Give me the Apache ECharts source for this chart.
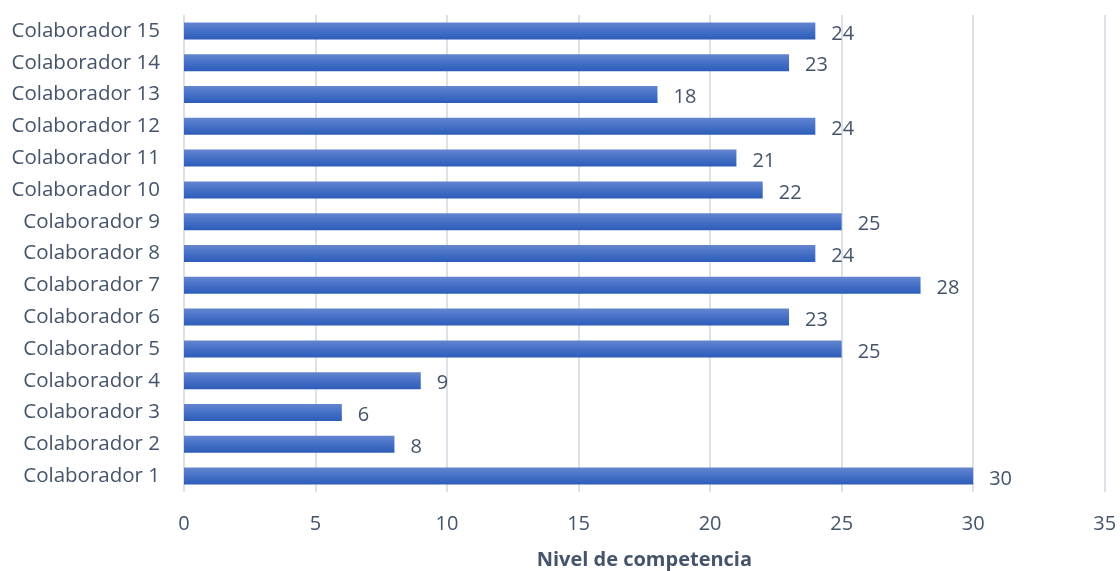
<!DOCTYPE html>
<html><head><meta charset="utf-8">
<script src="https://cdn.jsdelivr.net/npm/echarts@6/dist/echarts.min.js"></script>
<style>html,body{margin:0;padding:0;background:#fff}#c{width:1120px;height:571px}</style>
</head><body><div id="c"></div>
<script>
const categories = ["Colaborador 1","Colaborador 2","Colaborador 3","Colaborador 4","Colaborador 5","Colaborador 6","Colaborador 7","Colaborador 8","Colaborador 9","Colaborador 10","Colaborador 11","Colaborador 12","Colaborador 13","Colaborador 14","Colaborador 15"];
const values = [30,8,6,9,25,23,28,24,25,22,21,24,18,23,24];
const axisTitle = "Nivel de competencia";
const txt = '#44546A';
const font = 'Open Sans';
const chart = echarts.init(document.getElementById('c'), null, {renderer:'canvas'});
chart.setOption({
  animation:false,
  grid:{left:184, right:15.3, top:15, bottom:79, containLabel:false, outerBoundsMode:'none'},
  xAxis:{type:'value', min:0, max:35, interval:5,
    axisLine:{show:false}, axisTick:{show:false},
    axisLabel:{color:txt, fontSize:20, fontFamily:font, margin:22},
    splitLine:{show:true, lineStyle:{color:'#DDE1E8', width:2}},
    name:axisTitle, nameLocation:'middle', nameGap:58,
    nameTextStyle:{color:txt, fontSize:20, fontWeight:'bold', fontFamily:font}},
  yAxis:{type:'category', data:categories,
    axisLine:{show:false}, axisTick:{show:false},
    axisLabel:{color:txt, fontSize:20.5, fontFamily:font, margin:24, padding:[4,0,0,0]}},
  series:[{type:'bar', data:values, barWidth:17,
    itemStyle:{color:new echarts.graphic.LinearGradient(0,0,0,1,[{offset:0,color:'#6585CF'},{offset:0.5,color:'#4470C6'},{offset:1,color:'#2D5CB9'}])},
    label:{show:true, position:'right', distance:16, color:txt, fontSize:20, fontFamily:font, offset:[0,3]}}]
});
</script></body></html>
